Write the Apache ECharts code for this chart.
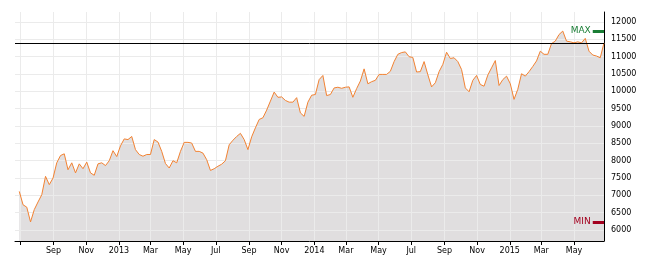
<!DOCTYPE html>
<html><head><meta charset="utf-8">
<script src="https://cdn.jsdelivr.net/npm/echarts@6/dist/echarts.min.js"></script>
<style>html,body{margin:0;padding:0;background:#fff}#c{width:652px;height:262px}</style>
</head><body><div id="c"></div>
<script>
const dates = [
'2012-06-29','2012-07-06','2012-07-13','2012-07-20','2012-07-27','2012-08-03','2012-08-10','2012-08-17','2012-08-24','2012-08-31','2012-09-07','2012-09-14','2012-09-21','2012-09-28','2012-10-05','2012-10-12','2012-10-19','2012-10-26','2012-11-02','2012-11-09','2012-11-16','2012-11-23','2012-11-30','2012-12-07','2012-12-14','2012-12-21','2012-12-28',
'2013-01-04','2013-01-11','2013-01-18','2013-01-25','2013-02-01','2013-02-08','2013-02-15','2013-02-22','2013-03-01','2013-03-08','2013-03-15','2013-03-22','2013-03-29','2013-04-05','2013-04-12','2013-04-19','2013-04-26','2013-05-03','2013-05-10','2013-05-17','2013-05-24','2013-05-31','2013-06-07','2013-06-14','2013-06-21','2013-06-28','2013-07-05','2013-07-12','2013-07-19','2013-07-26','2013-08-02','2013-08-09','2013-08-16','2013-08-23','2013-08-30','2013-09-06','2013-09-13','2013-09-20','2013-09-27','2013-10-04','2013-10-11','2013-10-18','2013-10-25','2013-11-01','2013-11-08','2013-11-15','2013-11-22','2013-11-29','2013-12-06','2013-12-13','2013-12-20','2013-12-27',
'2014-01-03','2014-01-10','2014-01-17','2014-01-24','2014-01-31','2014-02-07','2014-02-14','2014-02-21','2014-02-28','2014-03-07','2014-03-14','2014-03-21','2014-03-28','2014-04-04','2014-04-11','2014-04-18','2014-04-25','2014-05-02','2014-05-09','2014-05-16','2014-05-23','2014-05-30','2014-06-06','2014-06-13','2014-06-20','2014-06-27','2014-07-04','2014-07-11','2014-07-18','2014-07-25','2014-08-01','2014-08-08','2014-08-15','2014-08-22','2014-08-29','2014-09-05','2014-09-12','2014-09-19','2014-09-26','2014-10-03','2014-10-10','2014-10-17','2014-10-24','2014-10-31','2014-11-07','2014-11-14','2014-11-21','2014-11-28','2014-12-05','2014-12-12','2014-12-19','2014-12-26',
'2015-01-02','2015-01-09','2015-01-16','2015-01-23','2015-01-30','2015-02-06','2015-02-13','2015-02-20','2015-02-27','2015-03-06','2015-03-13','2015-03-20','2015-03-27','2015-04-03','2015-04-10','2015-04-17','2015-04-24','2015-05-01','2015-05-08','2015-05-15','2015-05-22','2015-05-29','2015-06-05','2015-06-12','2015-06-19','2015-06-26'
];
const values = [
7115,6730,6660,6235,6590,6810,7020,7550,7310,7500,7940,8150,8200,7740,7940,7650,7910,7770,7960,7650,7580,7910,7940,7860,8000,8290,8120,
8430,8630,8610,8700,8320,8180,8130,8180,8180,8610,8540,8270,7920,7790,8000,7940,8270,8530,8530,8510,8270,8270,8220,8030,7720,7770,7840,7900,8000,8460,8590,8700,8790,8610,8320,8690,8950,9190,9240,9460,9720,9980,9830,9840,9740,9690,9690,9820,9380,9280,9690,9890,
9910,10340,10460,9880,9910,10100,10120,10090,10120,10130,9830,10080,10300,10650,10220,10280,10320,10490,10490,10490,10580,10860,11070,11120,11140,11000,10980,10560,10570,10860,10480,10130,10250,10570,10780,11130,10950,10970,10860,10630,10100,9990,10320,10460,10200,10150,10470,10680,10890,10170,10340,10440,
10220,9770,10060,10510,10440,10570,10720,10880,11160,11070,11070,11380,11450,11640,11740,11450,11430,11400,11430,11400,11530,11160,11050,11020,10970,11400
];
const monthNames = ['Jan','Feb','Mar','Apr','May','Jun','Jul','Aug','Sep','Oct','Nov','Dec'];
const hiddenLabels = ['2012-07'];
const axisStart = '2012-06-21';
const maxText = 'MAX', minText = 'MIN';

const FONT = 'DejaVu Sans';
const TWO_MONTHS = 62 * 24 * 3600 * 1000;
const seriesData = dates.map((d, i) => [d, values[i]]);
const lastDate = dates[dates.length - 1];
const markerStart = dates[dates.length - 4];
const lastValue = values[values.length - 1];
const maxValue = Math.max(...values);
const minValue = Math.min(...values);

function fmtDate(v) {
  const d = new Date(v);
  if (d.getDate() !== 1 || d.getHours() !== 0) return '';
  const key = d.getFullYear() + '-' + String(d.getMonth() + 1).padStart(2, '0');
  if (hiddenLabels.indexOf(key) >= 0) return '';
  return d.getMonth() === 0 ? String(d.getFullYear()) : monthNames[d.getMonth()];
}

const chart = echarts.init(document.getElementById('c'), null, {renderer: 'canvas'});
chart.setOption({
  animation: false,
  backgroundColor: '#fff',
  grid: {left: 15, right: 48, top: 12, bottom: 21, containLabel: false},
  xAxis: {
    type: 'time', min: axisStart, max: lastDate, z: 1,
    minInterval: TWO_MONTHS, maxInterval: TWO_MONTHS,
    axisLine: {show: true, lineStyle: {color: '#000', width: 1}},
    axisTick: {show: true, length: 4, lineStyle: {color: '#000'}},
    axisLabel: {fontSize: 8, fontFamily: FONT, color: '#000', margin: 6, hideOverlap: false, formatter: fmtDate},
    splitLine: {show: true, lineStyle: {color: '#ebebeb', width: 1}, showMinLine: false, showMaxLine: false}
  },
  yAxis: {
    type: 'value', position: 'right', z: 1, scale: true,
    min: function (v) { return v.min - (v.max - v.min) * 0.1; },
    max: function (v) { return v.max + (v.max - v.min) * 0.1; },
    splitNumber: 13, minInterval: 500, maxInterval: 500,
    axisLine: {show: true, lineStyle: {color: '#000', width: 1}},
    axisTick: {show: false},
    axisLabel: {fontSize: 8, fontFamily: FONT, color: '#000', margin: 7, showMinLabel: false, showMaxLabel: false,
      formatter: function (v) { return String(Math.round(v)); }},
    splitLine: {show: true, lineStyle: {color: '#ebebeb', width: 1}, showMinLine: false, showMaxLine: false}
  },
  series: [
    {
      type: 'line', data: seriesData, z: 0, silent: true, showSymbol: false,
      lineStyle: {width: 0, opacity: 0},
      areaStyle: {color: '#e0dedf', opacity: 1}
    },
    {
      type: 'line', data: seriesData, z: 3, silent: true, showSymbol: false,
      lineStyle: {color: '#f28232', width: 1},
      markLine: {
        silent: true, symbol: 'none', animation: false,
        data: [
          {yAxis: lastValue, lineStyle: {color: '#000', width: 1, type: 'solid'}, label: {show: false}},
          [
            {coord: [markerStart, maxValue], lineStyle: {color: '#1a7d35', width: 3, type: 'solid'},
             label: {show: true, position: 'start', formatter: maxText, color: '#1a7d35', fontSize: 9, fontFamily: FONT, distance: 2}},
            {coord: [lastDate, maxValue]}
          ],
          [
            {coord: [markerStart, minValue], lineStyle: {color: '#a3001f', width: 3, type: 'solid'},
             label: {show: true, position: 'start', formatter: minText, color: '#a3001f', fontSize: 9, fontFamily: FONT, distance: 2}},
            {coord: [lastDate, minValue]}
          ]
        ]
      }
    }
  ]
});
</script></body></html>
